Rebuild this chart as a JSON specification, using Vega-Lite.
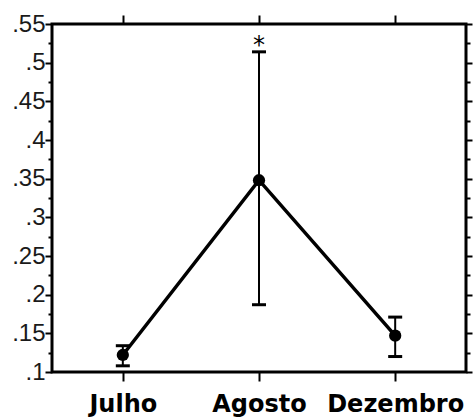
{
  "$schema": "https://vega.github.io/schema/vega-lite/v6.json",
  "width": 414,
  "height": 348,
  "autosize": {"type": "none"},
  "padding": {"left": 52, "top": 24, "right": 8, "bottom": 48},
  "background": "white",
  "config": {
    "view": {"stroke": "black", "strokeWidth": 3},
    "axis": {"grid": false, "domain": false, "tickColor": "black", "tickWidth": 2}
  },
  "data": {
    "values": [
      {"mes": "Julho", "media": 0.122, "inf": 0.108, "sup": 0.134, "sig": ""},
      {"mes": "Agosto", "media": 0.348, "inf": 0.187, "sup": 0.514, "sig": "*"},
      {"mes": "Dezembro", "media": 0.147, "inf": 0.12, "sup": 0.171, "sig": ""}
    ]
  },
  "encoding": {
    "x": {
      "field": "mes",
      "type": "ordinal",
      "sort": ["Julho", "Agosto", "Dezembro"],
      "scale": {"type": "point", "padding": 0.52}
    }
  },
  "layer": [
    {
      "mark": {"type": "rule", "color": "black", "strokeWidth": 2},
      "encoding": {
        "x": {
          "field": "mes", "type": "ordinal", "sort": ["Julho", "Agosto", "Dezembro"],
          "axis": {
            "orient": "bottom", "title": null, "labelAngle": 0,
            "tickSize": 9, "labelPadding": 11,
            "labelFont": "DejaVu Sans", "labelFontWeight": "bold", "labelFontSize": 24,
            "labelColor": "black", "labelBaseline": "top"
          }
        },
        "y": {
          "field": "inf", "type": "quantitative",
          "scale": {"domain": [0.1, 0.55], "nice": false, "zero": false},
          "axis": {
            "orient": "left", "title": null,
            "values": [0.1, 0.125, 0.15, 0.175, 0.2, 0.225, 0.25, 0.275, 0.3, 0.325, 0.35, 0.375, 0.4, 0.425, 0.45, 0.475, 0.5, 0.525, 0.55],
            "tickSize": {"condition": {"test": "abs(datum.value*20 - round(datum.value*20)) < 0.001", "value": 7}, "value": 4},
            "labelExpr": "abs(datum.value*20 - round(datum.value*20)) < 0.001 ? slice(format(datum.value, '.2~f'), 1) : ''",
            "labelPadding": 0,
            "labelFont": "Liberation Sans", "labelFontSize": 24, "labelColor": "#1a1a1a",
            "labelBaseline": "middle", "labelFlush": false, "labelOverlap": false
          }
        },
        "y2": {"field": "sup"}
      }
    },
    {
      "mark": {"type": "line", "color": "black", "strokeWidth": 3.5},
      "encoding": {
        "x": {
          "field": "mes", "type": "ordinal", "sort": ["Julho", "Agosto", "Dezembro"],
          "axis": {"orient": "top", "title": null, "labels": false, "tickSize": 9}
        },
        "y": {
          "field": "media", "type": "quantitative",
          "axis": {
            "orient": "right", "title": null, "labels": false,
            "values": [0.1, 0.125, 0.15, 0.175, 0.2, 0.225, 0.25, 0.275, 0.3, 0.325, 0.35, 0.375, 0.4, 0.425, 0.45, 0.475, 0.5, 0.525, 0.55],
            "tickSize": {"condition": {"test": "abs(datum.value*20 - round(datum.value*20)) < 0.001", "value": 6}, "value": 4}
          }
        }
      }
    },
    {
      "mark": {"type": "point", "filled": true, "color": "black", "opacity": 1, "size": 150},
      "encoding": {
        "x": {"field": "mes", "type": "ordinal", "sort": ["Julho", "Agosto", "Dezembro"], "axis": null},
        "y": {"field": "media", "type": "quantitative", "axis": null}
      }
    },
    {
      "mark": {"type": "tick", "color": "black", "opacity": 1, "thickness": 3, "size": 14, "orient": "horizontal"},
      "encoding": {
        "x": {"field": "mes", "type": "ordinal", "sort": ["Julho", "Agosto", "Dezembro"], "axis": null},
        "y": {"field": "inf", "type": "quantitative", "axis": null}
      }
    },
    {
      "mark": {"type": "tick", "color": "black", "opacity": 1, "thickness": 3, "size": 14, "orient": "horizontal"},
      "encoding": {
        "x": {"field": "mes", "type": "ordinal", "sort": ["Julho", "Agosto", "Dezembro"], "axis": null},
        "y": {"field": "sup", "type": "quantitative", "axis": null}
      }
    },
    {
      "mark": {"type": "text", "color": "black", "font": "DejaVu Sans", "fontSize": 24, "baseline": "alphabetic", "dy": 1},
      "encoding": {
        "x": {"field": "mes", "type": "ordinal", "sort": ["Julho", "Agosto", "Dezembro"], "axis": null},
        "y": {"field": "sup", "type": "quantitative", "axis": null},
        "text": {"field": "sig"}
      },
      "transform": [{"filter": "datum.sig != ''"}]
    }
  ],
  "resolve": {"axis": {"x": "independent", "y": "independent"}}
}
